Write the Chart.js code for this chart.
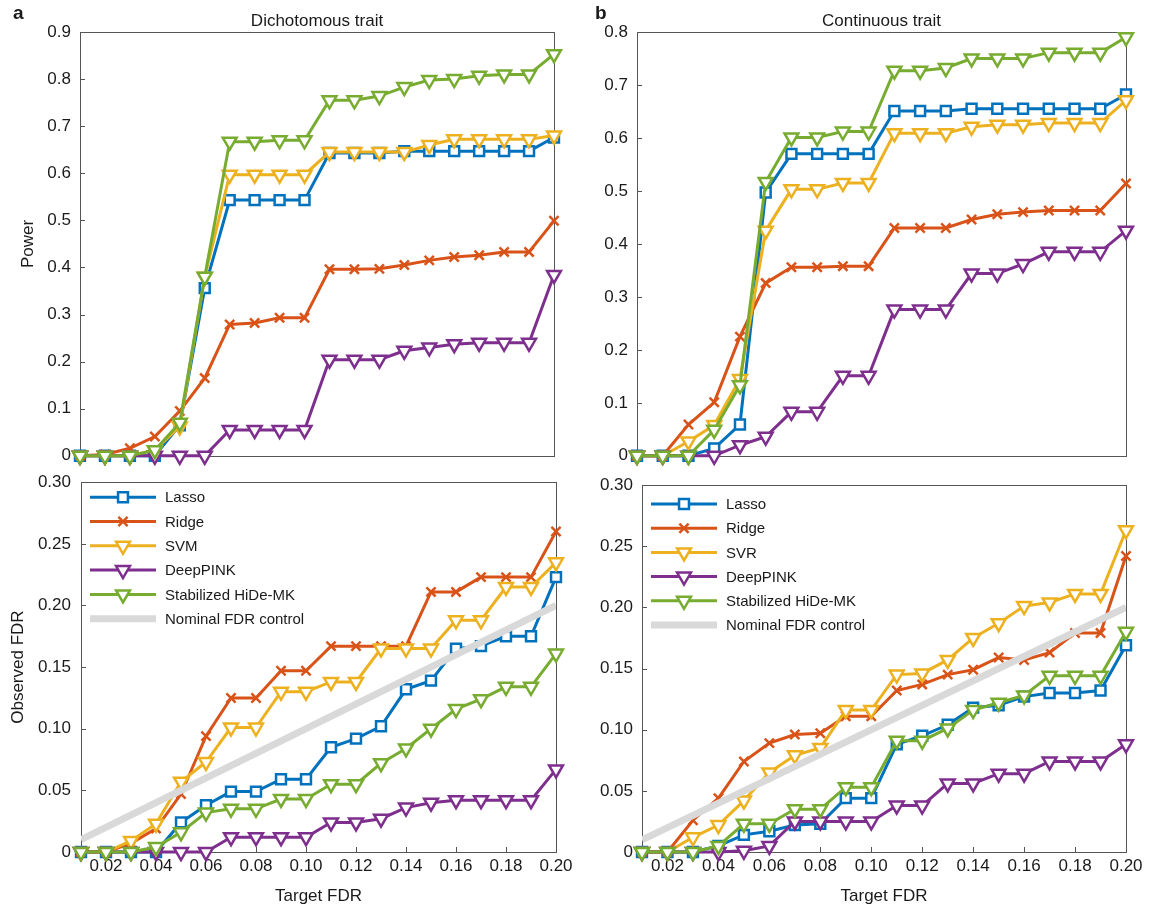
<!DOCTYPE html>
<html>
<head>
<meta charset="utf-8">
<script src="https://cdn.jsdelivr.net/npm/chart.js@4.4.0/dist/chart.umd.min.js"></script>
<style>
  body { margin: 0; background: #fff; width: 1170px; height: 910px; position: relative; overflow: hidden; }
  canvas { position: absolute; }
</style>
</head>
<body>
<canvas id="tl" width="590" height="475" style="left:0;top:0"></canvas>
<canvas id="tr" width="580" height="475" style="left:590px;top:0"></canvas>
<canvas id="bl" width="590" height="448" style="left:0;top:462px"></canvas>
<canvas id="br" width="580" height="448" style="left:590px;top:462px"></canvas>
<script>
// x values (target FDR) and tick labels
var targetFdr = [0.01, 0.02, 0.03, 0.04, 0.05, 0.06, 0.07, 0.08, 0.09, 0.10,
                 0.11, 0.12, 0.13, 0.14, 0.15, 0.16, 0.17, 0.18, 0.19, 0.20];
var xTicks = [0.02, 0.04, 0.06, 0.08, 0.10, 0.12, 0.14, 0.16, 0.18, 0.20];
var powerTicksA = [0, 0.1, 0.2, 0.3, 0.4, 0.5, 0.6, 0.7, 0.8, 0.9];
var powerTicksB = [0, 0.1, 0.2, 0.3, 0.4, 0.5, 0.6, 0.7, 0.8];
var fdrTicks = [0, 0.05, 0.10, 0.15, 0.20, 0.25, 0.30];

// a: dichotomous trait, power
var powerDichLasso    = [0, 0, 0, 0, 0.065, 0.356, 0.543, 0.543, 0.543, 0.543, 0.643, 0.643, 0.643, 0.647, 0.647, 0.647, 0.647, 0.647, 0.647, 0.676];
var powerDichRidge    = [0, 0.003, 0.016, 0.041, 0.095, 0.165, 0.279, 0.282, 0.293, 0.293, 0.396, 0.396, 0.397, 0.405, 0.415, 0.422, 0.426, 0.433, 0.433, 0.499];
var powerDichSvm      = [0, 0, 0, 0.012, 0.062, 0.38, 0.597, 0.597, 0.597, 0.597, 0.645, 0.645, 0.645, 0.645, 0.66, 0.672, 0.672, 0.672, 0.672, 0.68];
var powerDichDeepPink = [0, 0, 0, 0, 0, 0, 0.055, 0.055, 0.055, 0.055, 0.204, 0.204, 0.204, 0.223, 0.23, 0.237, 0.24, 0.24, 0.24, 0.384];
var powerDichStab     = [0, 0, 0, 0.012, 0.07, 0.38, 0.667, 0.667, 0.67, 0.67, 0.755, 0.755, 0.764, 0.783, 0.798, 0.80, 0.807, 0.81, 0.81, 0.853];

// b: continuous trait, power
var powerContLasso    = [0, 0, 0, 0.014, 0.059, 0.497, 0.570, 0.570, 0.570, 0.570, 0.651, 0.651, 0.651, 0.655, 0.655, 0.655, 0.655, 0.655, 0.655, 0.682];
var powerContRidge    = [0, 0, 0.059, 0.101, 0.225, 0.326, 0.356, 0.356, 0.358, 0.358, 0.430, 0.430, 0.430, 0.446, 0.456, 0.460, 0.463, 0.463, 0.463, 0.514];
var powerContSvr      = [0, 0, 0.027, 0.058, 0.145, 0.425, 0.503, 0.503, 0.515, 0.515, 0.609, 0.609, 0.609, 0.621, 0.625, 0.625, 0.628, 0.628, 0.628, 0.671];
var powerContDeepPink = [0, 0, 0, 0, 0.02, 0.036, 0.083, 0.083, 0.151, 0.151, 0.276, 0.276, 0.276, 0.344, 0.344, 0.362, 0.385, 0.385, 0.385, 0.425];
var powerContStab     = [0, 0, 0, 0.049, 0.133, 0.517, 0.601, 0.601, 0.612, 0.612, 0.727, 0.727, 0.732, 0.75, 0.75, 0.75, 0.761, 0.761, 0.761, 0.79];

// a: dichotomous trait, observed FDR
var fdrDichLasso    = [0, 0, 0, 0, 0.024, 0.038, 0.049, 0.049, 0.059, 0.059, 0.085, 0.092, 0.102, 0.132, 0.139, 0.165, 0.167, 0.175, 0.175, 0.223];
var fdrDichRidge    = [0, 0, 0.007, 0.019, 0.047, 0.094, 0.125, 0.125, 0.147, 0.147, 0.167, 0.167, 0.167, 0.167, 0.211, 0.211, 0.223, 0.223, 0.223, 0.26];
var fdrDichSvm      = [0, 0, 0.009, 0.023, 0.057, 0.073, 0.101, 0.101, 0.13, 0.13, 0.138, 0.138, 0.165, 0.165, 0.165, 0.188, 0.188, 0.215, 0.215, 0.235];
var fdrDichDeepPink = [0, 0, 0, 0, 0, 0, 0.012, 0.012, 0.012, 0.012, 0.024, 0.024, 0.027, 0.036, 0.04, 0.042, 0.042, 0.042, 0.042, 0.067];
var fdrDichStab     = [0, 0, 0, 0.004, 0.016, 0.032, 0.035, 0.035, 0.043, 0.043, 0.055, 0.055, 0.072, 0.084, 0.1, 0.116, 0.124, 0.134, 0.134, 0.161];

// b: continuous trait, observed FDR
var fdrContLasso    = [0, 0, 0, 0.005, 0.014, 0.017, 0.022, 0.023, 0.044, 0.044, 0.088, 0.095, 0.104, 0.118, 0.12, 0.127, 0.13, 0.13, 0.132, 0.169];
var fdrContRidge    = [0, 0, 0.026, 0.044, 0.074, 0.089, 0.096, 0.097, 0.111, 0.111, 0.132, 0.137, 0.145, 0.149, 0.159, 0.157, 0.163, 0.179, 0.179, 0.242];
var fdrContSvr      = [0, 0, 0.012, 0.022, 0.042, 0.065, 0.079, 0.085, 0.116, 0.116, 0.145, 0.146, 0.157, 0.175, 0.187, 0.201, 0.204, 0.211, 0.211, 0.263];
var fdrContDeepPink = [0, 0, 0, 0, 0.001, 0.005, 0.025, 0.025, 0.025, 0.025, 0.038, 0.038, 0.056, 0.056, 0.064, 0.064, 0.074, 0.074, 0.074, 0.088];
var fdrContStab     = [0, 0, 0, 0.005, 0.023, 0.023, 0.035, 0.035, 0.053, 0.053, 0.091, 0.091, 0.101, 0.116, 0.122, 0.128, 0.144, 0.144, 0.144, 0.18];

// nominal FDR control line (y = x), end points only
var nominalX = [0.01, 0.20];
var nominalY = [0.01, 0.20];

var fontFamily = '"Liberation Sans", Arial, Helvetica, sans-serif';
var textColor = '#1a1a1a';
var axisColor = '#555';

// marker styles, MATLAB default colour order
var styleLasso = { color: '#0072bd', pointStyle: 'rect', radius: 7, rotation: 0 };
var styleRidge = { color: '#d95319', pointStyle: 'crossRot', radius: 6.5, rotation: 0 };
var styleSvm   = { color: '#edb120', pointStyle: 'triangle', radius: 8, rotation: 180 };
var styleDeep  = { color: '#7e2f8e', pointStyle: 'triangle', radius: 8, rotation: 180 };
var styleStab  = { color: '#77ac30', pointStyle: 'triangle', radius: 8, rotation: 180 };

function methodDataset(label, values, style, order) {
  return {
    label: label,
    data: targetFdr.map(function (x, i) { return { x: x, y: values[i] }; }),
    borderColor: style.color,
    borderWidth: 3,
    pointStyle: style.pointStyle,
    pointRadius: style.radius,
    pointRotation: style.rotation,
    pointBorderColor: style.color,
    pointBackgroundColor: '#fff',
    pointBorderWidth: 2.5,
    tension: 0,
    clip: false,
    order: order
  };
}

function nominalDataset() {
  return {
    label: 'Nominal FDR control',
    data: nominalX.map(function (x, i) { return { x: x, y: nominalY[i] }; }),
    borderColor: '#d9d9d9',
    borderWidth: 7,
    borderCapStyle: 'butt',
    pointRadius: 0,
    order: 0
  };
}

// axes box with inward ticks, drawn under the data (MATLAB style)
var frameBox = {
  id: 'frameBox',
  beforeDatasetsDraw: function (chart) {
    var ctx = chart.ctx, a = chart.chartArea;
    var xs = chart.scales.x, ys = chart.scales.y;
    ctx.save();
    ctx.strokeStyle = axisColor;
    ctx.lineWidth = 1;
    ctx.strokeRect(Math.round(a.left) + 0.5, Math.round(a.top) + 0.5,
                   Math.round(a.right - a.left), Math.round(a.bottom - a.top));
    ctx.beginPath();
    ys.ticks.forEach(function (t) {
      var py = Math.round(ys.getPixelForValue(t.value)) + 0.5;
      ctx.moveTo(a.left, py); ctx.lineTo(a.left + 5, py);
    });
    if (xs.options.display) {
      xTicks.forEach(function (v) {
        var px = Math.round(xs.getPixelForValue(v)) + 0.5;
        ctx.moveTo(px, a.bottom); ctx.lineTo(px, a.bottom - 5);
      });
    }
    ctx.stroke();
    ctx.restore();
  }
};

// legend inside the plot area, line + marker like MATLAB
var insideLegend = {
  id: 'insideLegend',
  afterDatasetsDraw: function (chart, args, opts) {
    if (!opts.show) return;
    var ctx = chart.ctx, a = chart.chartArea;
    ctx.save();
    chart.data.datasets.forEach(function (ds, i) {
      var y = a.top + opts.top + i * opts.rowGap;
      var x0 = a.left + 9, x1 = a.left + 75;
      ctx.strokeStyle = ds.borderColor;
      ctx.lineWidth = ds.borderWidth;
      ctx.lineCap = 'butt';
      ctx.beginPath(); ctx.moveTo(x0, y); ctx.lineTo(x1, y); ctx.stroke();
      if (ds.pointRadius > 0) {
        ctx.fillStyle = ds.pointBackgroundColor;
        ctx.strokeStyle = ds.pointBorderColor;
        ctx.lineWidth = ds.pointBorderWidth;
        Chart.helpers.drawPoint(ctx, {
          pointStyle: ds.pointStyle, rotation: ds.pointRotation,
          radius: ds.pointRadius, borderWidth: ds.pointBorderWidth
        }, a.left + 42, y);
      }
      ctx.fillStyle = textColor;
      ctx.font = '15px ' + fontFamily;
      ctx.textAlign = 'left';
      ctx.textBaseline = 'middle';
      ctx.fillText(ds.label, a.left + 84, y + 1);
    });
    ctx.restore();
  }
};

// panel title and letter
var panelText = {
  id: 'panelText',
  afterDraw: function (chart, args, opts) {
    var ctx = chart.ctx, a = chart.chartArea;
    ctx.save();
    ctx.fillStyle = textColor;
    ctx.textBaseline = 'alphabetic';
    if (opts.title) {
      ctx.font = '17px ' + fontFamily;
      ctx.textAlign = 'center';
      ctx.fillText(opts.title, (a.left + a.right) / 2, a.top - 6);
    }
    if (opts.letter) {
      ctx.font = 'bold 19px ' + fontFamily;
      ctx.textAlign = 'left';
      ctx.fillText(opts.letter, opts.letterX, 19);
    }
    ctx.restore();
  }
};

function fmtPower(v) { return v === 0 ? '0' : v.toFixed(1); }
function fmtFdr(v) { return v === 0 ? '0' : v.toFixed(2); }

function panelOptions(cfg) {
  var tickFont = { family: fontFamily, size: 17 };
  return {
    responsive: false,
    animation: false,
    devicePixelRatio: 1,
    layout: { padding: cfg.padding },
    scales: {
      x: {
        type: 'linear', min: 0.01, max: 0.20,
        display: cfg.showX,
        afterBuildTicks: function (s) { s.ticks = xTicks.map(function (v) { return { value: v }; }); },
        afterFit: function (s) { if (cfg.showX) s.height = 58; },
        grid: { display: false, drawTicks: false },
        border: { display: false },
        ticks: { autoSkip: false, maxRotation: 0, padding: 4, color: textColor, font: tickFont,
                 callback: function (v) { return v.toFixed(2); } },
        title: { display: true, text: 'Target FDR', color: textColor, font: tickFont,
                 padding: { top: 0, bottom: 3 } }
      },
      y: {
        type: 'linear', min: 0, max: cfg.yMax,
        afterBuildTicks: function (s) { s.ticks = cfg.yTicks.map(function (v) { return { value: v }; }); },
        afterFit: function (s) { s.width = cfg.yWidth; },
        grid: { display: false, drawTicks: false },
        border: { display: false },
        ticks: { autoSkip: false, padding: cfg.tickPad, color: textColor, font: tickFont,
                 callback: cfg.fmt },
        title: { display: !!cfg.yTitle, text: cfg.yTitle || '', color: textColor, font: tickFont,
                 padding: { top: cfg.titlePad || 0, bottom: 0 } }
      }
    },
    plugins: {
      legend: { display: false },
      tooltip: { enabled: false },
      insideLegend: cfg.legend || { show: false },
      panelText: cfg.text || {}
    }
  };
}

var plugins = [frameBox, insideLegend, panelText];

new Chart(document.getElementById('tl'), {
  type: 'line',
  data: { datasets: [
    methodDataset('Lasso', powerDichLasso, styleLasso, 5),
    methodDataset('Ridge', powerDichRidge, styleRidge, 4),
    methodDataset('SVM', powerDichSvm, styleSvm, 3),
    methodDataset('DeepPINK', powerDichDeepPink, styleDeep, 2),
    methodDataset('Stabilized HiDe-MK', powerDichStab, styleStab, 1)
  ] },
  options: panelOptions({
    padding: { left: 0, top: 32, right: 36, bottom: 14 },
    showX: false, yMax: 0.9, yTicks: powerTicksA, fmt: fmtPower,
    yWidth: 80, tickPad: 9, yTitle: 'Power', titlePad: 18,
    text: { title: 'Dichotomous trait', letter: 'a', letterX: 13 }
  }),
  plugins: plugins
});

new Chart(document.getElementById('tr'), {
  type: 'line',
  data: { datasets: [
    methodDataset('Lasso', powerContLasso, styleLasso, 5),
    methodDataset('Ridge', powerContRidge, styleRidge, 4),
    methodDataset('SVR', powerContSvr, styleSvm, 3),
    methodDataset('DeepPINK', powerContDeepPink, styleDeep, 2),
    methodDataset('Stabilized HiDe-MK', powerContStab, styleStab, 1)
  ] },
  options: panelOptions({
    padding: { left: 0, top: 32, right: 44, bottom: 14 },
    showX: false, yMax: 0.8, yTicks: powerTicksB, fmt: fmtPower,
    yWidth: 47, tickPad: 9,
    text: { title: 'Continuous trait', letter: 'b', letterX: 5 }
  }),
  plugins: plugins
});

new Chart(document.getElementById('bl'), {
  type: 'line',
  data: { datasets: [
    methodDataset('Lasso', fdrDichLasso, styleLasso, 5),
    methodDataset('Ridge', fdrDichRidge, styleRidge, 4),
    methodDataset('SVM', fdrDichSvm, styleSvm, 3),
    methodDataset('DeepPINK', fdrDichDeepPink, styleDeep, 2),
    methodDataset('Stabilized HiDe-MK', fdrDichStab, styleStab, 1),
    nominalDataset()
  ] },
  options: panelOptions({
    padding: { left: 0, top: 19, right: 34, bottom: 0 },
    showX: true, yMax: 0.30, yTicks: fdrTicks, fmt: fmtFdr,
    yWidth: 81, tickPad: 10, yTitle: 'Observed FDR', titlePad: 8,
    legend: { show: true, top: 15, rowGap: 24.3 }
  }),
  plugins: plugins
});

new Chart(document.getElementById('br'), {
  type: 'line',
  data: { datasets: [
    methodDataset('Lasso', fdrContLasso, styleLasso, 5),
    methodDataset('Ridge', fdrContRidge, styleRidge, 4),
    methodDataset('SVR', fdrContSvr, styleSvm, 3),
    methodDataset('DeepPINK', fdrContDeepPink, styleDeep, 2),
    methodDataset('Stabilized HiDe-MK', fdrContStab, styleStab, 1),
    nominalDataset()
  ] },
  options: panelOptions({
    padding: { left: 0, top: 23, right: 44, bottom: 0 },
    showX: true, yMax: 0.30, yTicks: fdrTicks, fmt: fmtFdr,
    yWidth: 52, tickPad: 9,
    legend: { show: true, top: 19, rowGap: 24.2 }
  }),
  plugins: plugins
});
</script>
</body>
</html>
